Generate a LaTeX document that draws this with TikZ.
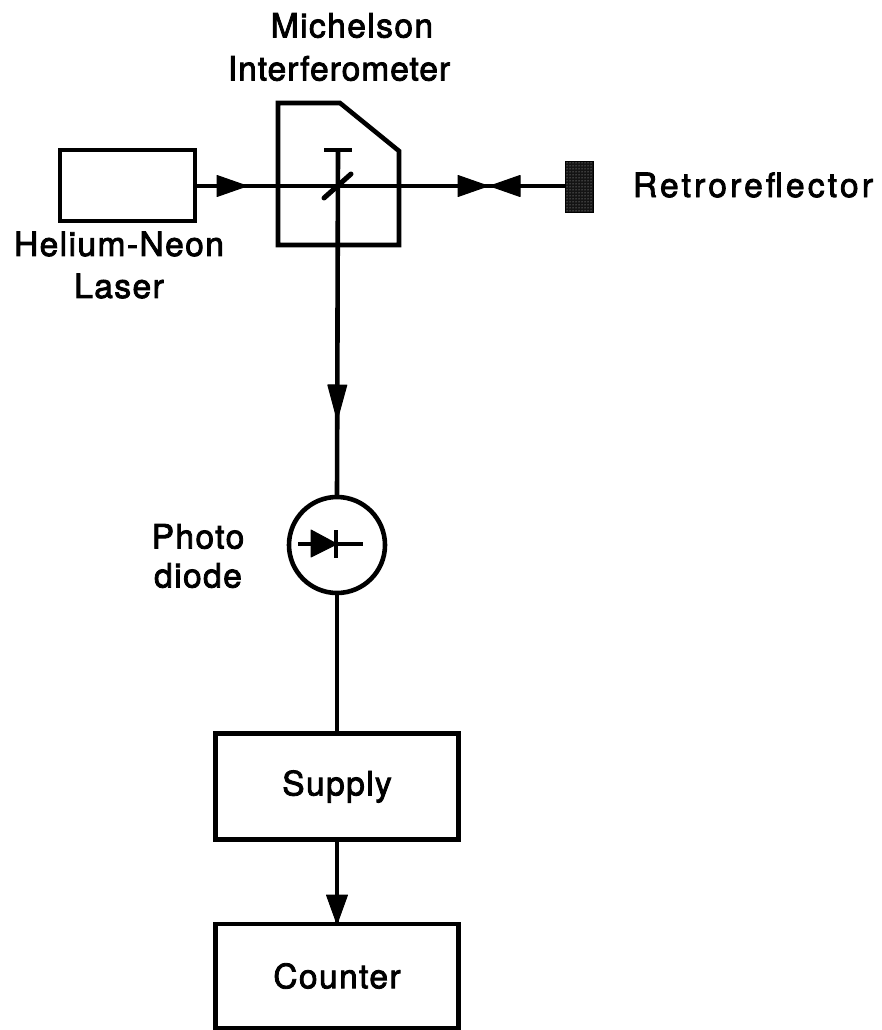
\documentclass[tikz,border=0pt]{standalone}
\usepackage{fontspec}
\setmainfont[LetterSpace=4.3,FakeBold=2.5]{TeX Gyre Heros}
\newfontfamily\retrofont[LetterSpace=9.6,FakeBold=2.5]{TeX Gyre Heros}
\newfontfamily\ifont[LetterSpace=3,FakeBold=2.5]{TeX Gyre Heros}
\usetikzlibrary{decorations.markings,patterns}
\tikzset{
  x=1pt,y=-1pt,
  ln/.style={line width=4.6pt,black},
  boxn/.style={draw,ln,inner sep=0pt,outer sep=0pt,font=\fontsize{33.5}{42}\selectfont},
  lab/.style={inner sep=0pt,align=center,font=\fontsize{33.5}{42}\selectfont},
  tipmark/.style={decoration={markings,#1},postaction={decorate}},
  headf/.style={fill=black,draw=black,line width=1pt,line join=round},
}
\newcommand{\tipR}{\path[headf] (-30pt,-10.5pt) -- (0pt,0pt) -- (-30pt,10.5pt) -- cycle;}
\begin{document}
\begin{tikzpicture}
\useasboundingbox (0,0) rectangle (882,1030);
% coordinates
\coordinate (bs) at (338,186);
\coordinate (tbar) at (338,150);
\coordinate (tl) at (324,150);
\coordinate (tr) at (352,150);
\coordinate (ml) at (324,198);
\coordinate (mr) at (351,174);
\coordinate (dl) at (298,544);
\coordinate (dr) at (363,544);
\coordinate (da) at (311,530);
\coordinate (db) at (311,557);
\coordinate (dc) at (337,544);
\coordinate (dt) at (336,530);
\coordinate (dd) at (336,558);
% boxes
\node[boxn,minimum width=135pt,minimum height=71pt] (laser) at (127.5,185.5) {};
\node[boxn,minimum width=243pt,minimum height=106pt] (supply) at (337,786.5) {Supply};
\node[boxn,minimum width=243pt,minimum height=104pt] (counter) at (337,976) {Counter};
\node[draw=black,fill=black!92,line width=0.5pt,inner sep=0pt,outer sep=0pt,minimum width=28pt,minimum height=51pt] (retro) at (579,186.5) {};
\fill[pattern=dots,pattern color=white!75!black] (retro.south west) rectangle (retro.north east);
\node[draw,ln,circle,inner sep=0pt,outer sep=0pt,minimum size=96pt] (pd) at (337,545) {};
% interferometer body
\draw[ln,line join=miter] (278,103) coordinate (i1) -- (340,103) -- (399,151) -- (399,245) -- (278,245) -- cycle;
% beam
\draw[ln,tipmark={mark=at position 52pt with {\tipR},mark=at position 293pt with {\tipR},mark=at position 295pt with {\begin{scope}[xscale=-1]\path[headf] (-30pt,-10.5pt) -- (0pt,0pt) -- (-30pt,10.5pt) -- cycle;\end{scope}}}] (laser.east |- bs) -- (retro.west |- bs);
% splitter
\draw[ln] (tl) -- (tr);
\draw[line width=5pt,line cap=round] (ml) -- (mr);
\draw[ln,tipmark={mark=at position 270pt with {\path[headf] (-35pt,-9.5pt) -- (0pt,0pt) -- (-35pt,9.5pt) -- cycle;}}] (tbar) -- (pd.north);
% diode
\draw[ln] (dl) -- (dr);
\path[headf] (da) -- (dc) -- (db) -- cycle;
\draw[ln] (dt) -- (dd);
% lower connectors
\draw[ln] (pd.south) -- (supply.north);
\draw[ln,tipmark={mark=at position 1 with {\path[headf] (-29pt,-10.5pt) -- (0pt,0pt) -- (-29pt,10.5pt) -- cycle;}}] (supply.south) -- (counter.north);
% labels
\node[lab] (mi) at (339,47) {\hspace*{26pt}Michelson\\[1pt]{\ifont Interferometer}};
\node[lab] (hn) at (119,265) {Helium-Neon\\Laser};
\node[lab] (ret) at (753,185) {\retrofont Retroreflector};
\node[lab] (ph) at (198,556) {Photo\\[-3pt]diode};
\end{tikzpicture}
\end{document}
